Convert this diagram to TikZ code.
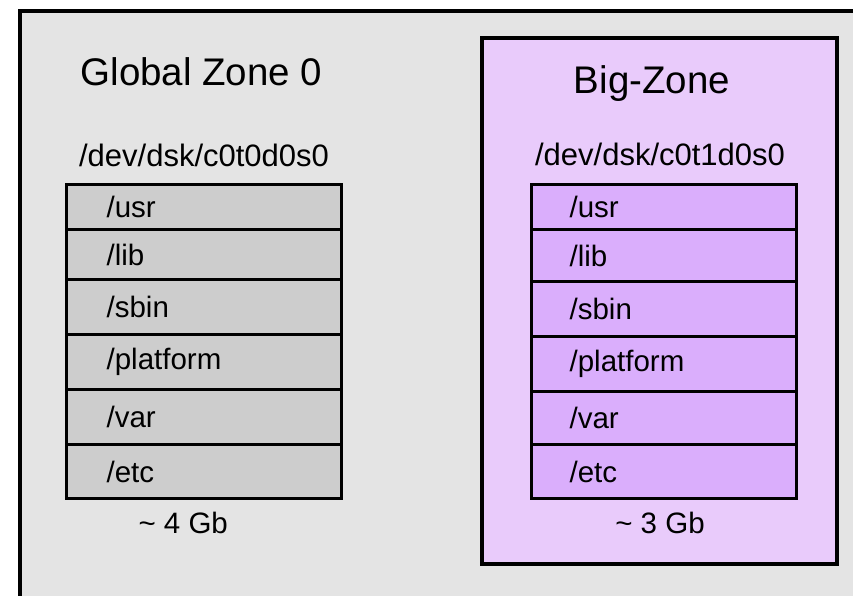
\documentclass[tikz,border=0pt]{standalone}
\usepackage{fontspec}
\setmainfont{Liberation Sans}
\usepackage{xcolor}
\usetikzlibrary{positioning}
\definecolor{ZoneGray}{RGB}{228,228,228}
\definecolor{DiskGray}{RGB}{205,205,205}
\definecolor{ZoneLilac}{RGB}{233,203,251}
\definecolor{DiskLilac}{RGB}{218,174,252}
\tikzset{
    zonebox/.style={
        draw, line width=3.5pt
    },
    gzrow/.style={
        draw, line width=3.2pt, fill=DiskGray, anchor=north west,
        inner xsep=40pt, text width=195pt, align=left, font=\fontsize{29.5}{30}\selectfont
    },
    bzrow/.style={
        draw, line width=3.2pt, fill=DiskLilac, anchor=north west,
        inner xsep=38pt, text width=189pt, align=left, font=\fontsize{29.5}{30}\selectfont
    },
    title/.style={
        font=\fontsize{38.5}{40}\selectfont
    },
    devlabel/.style={
        font=\fontsize{31}{32}\selectfont
    }
}

\begin{document}
\begin{tikzpicture}[x=1pt, y=-1pt]
    \useasboundingbox (0,0) rectangle (853,595);
    \clip (0,0) rectangle (853,595);
    % outer frame, runs off the right and bottom edges
    \draw[zonebox, fill=ZoneGray] (20,11) rectangle (900,650);
    \draw[zonebox, fill=ZoneLilac] (482,38) rectangle (837,564);

    % global zone
    \node[title, anchor=base west] (gztitle) at (77,85) {Global Zone 0};
    \node[devlabel, anchor=base] (gzdev) at (204,166) {/dev/dsk/c0t0d0s0};
    \foreach \lbl/\top/\h [count=\i] in {usr/183/45, lib/228/50, sbin/278/55, platform/333/55, var/388/55, etc/443/54}
        \node[gzrow, minimum height=\h pt] (g\i) at (65,\top) {/\lbl};
    \node[devlabel, font=\fontsize{29.5}{30}\selectfont, anchor=base west] (gzsize) at (135,533) {\char`~\ 4 Gb};

    % big zone
    \node[title, anchor=base] (bztitle) at (652,93) {Big-Zone};
    \node[devlabel, anchor=base] (bzdev) at (660,165) {/dev/dsk/c0t1d0s0};
    \foreach \lbl/\top/\h [count=\i] in {usr/183/45, lib/228/52, sbin/280/55, platform/335/55, var/390/53, etc/443/54}
        \node[bzrow, minimum height=\h pt] (b\i) at (530,\top) {/\lbl};
    \node[devlabel, font=\fontsize{29.5}{30}\selectfont, anchor=base] (bzsize) at (660,533) {\char`~\ 3 Gb};
\end{tikzpicture}
\end{document}
